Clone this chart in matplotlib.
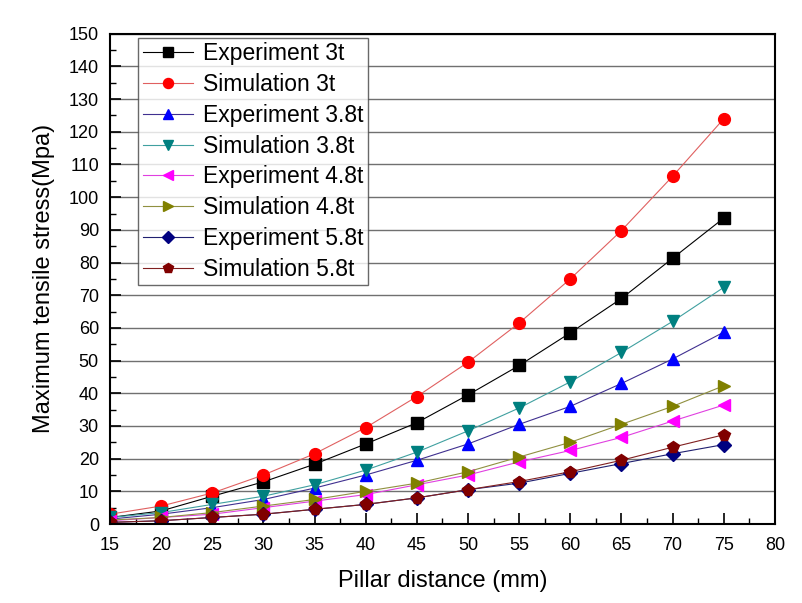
import matplotlib
matplotlib.use("Agg")
import matplotlib.pyplot as plt
from matplotlib.ticker import MultipleLocator

plt.rcParams['font.family'] = ['Liberation Sans', 'DejaVu Sans']

x = [15, 20, 25, 30, 35, 40, 45, 50, 55, 60, 65, 70, 75]
exp_3t = [2, 4, 8.5, 12.9, 18.3, 24.5, 31, 39.5, 48.5, 58.5, 69, 81.3, 93.6]
sim_3t = [3, 5.5, 9.5, 15, 21.5, 29.5, 39, 49.5, 61.5, 75, 89.8, 106.4, 124]
exp_38t = [1.5, 3, 5, 7.5, 11, 15, 19.5, 24.5, 30.5, 36, 43, 50.5, 58.7]
sim_38t = [2, 3.5, 6, 8.5, 12, 16.5, 22, 28.5, 35.5, 43.5, 52.5, 62, 72.4]
exp_48t = [1, 2, 3, 5, 7, 9, 12, 15, 19, 22.5, 26.5, 31.5, 36.4]
sim_48t = [1.2, 2, 3.5, 5.5, 7.5, 10, 12.5, 16, 20.5, 25, 30.5, 36, 42.3]
exp_58t = [0.5, 1, 2, 3, 4.5, 6, 8, 10.5, 12.5, 15.5, 18.5, 21.5, 24.3]
sim_58t = [0.5, 1, 2, 3, 4.5, 6, 8, 10.5, 13, 16, 19.5, 23.5, 27.3]

series = [
    ("Experiment 3t", exp_3t, 's', 'black', 'black'),
    ("Simulation 3t", sim_3t, 'o', '#ff0000', '#e06060'),
    ("Experiment 3.8t", exp_38t, '^', '#0000ff', '#403090'),
    ("Simulation 3.8t", sim_38t, 'v', '#008080', '#40a0a0'),
    ("Experiment 4.8t", exp_48t, '<', '#ff00ff', '#e040e0'),
    ("Simulation 4.8t", sim_48t, '>', '#808000', '#909040'),
    ("Experiment 5.8t", exp_58t, 'D', '#000080', '#202070'),
    ("Simulation 5.8t", sim_58t, 'p', '#800000', '#802020'),
]

fig = plt.figure(figsize=(8.03, 6.03), dpi=100)
ax = fig.add_axes([0.137, 0.131, 0.828, 0.813])

for label, ys, m, mc, lc in series:
    ms = 7 if m == 'D' else 8.5
    ax.plot(x, ys, color=lc, lw=0.8, marker=m, markersize=ms,
            markerfacecolor=mc, markeredgecolor=mc, label=label)

ax.set_xlim(15, 80)
ax.set_ylim(0, 150)
ax.xaxis.set_major_locator(MultipleLocator(5))
ax.xaxis.set_minor_locator(MultipleLocator(2.5))
ax.yaxis.set_major_locator(MultipleLocator(10))
ax.yaxis.set_minor_locator(MultipleLocator(5))
ax.tick_params(which='major', direction='in', length=8, width=1.2, labelsize=13)
ax.tick_params(which='minor', direction='in', length=4, width=1.0)
ax.tick_params(axis='x', which='major', pad=9)
ax.tick_params(axis='y', which='major', pad=8)
ax.grid(axis='y', which='major', color='#707070', lw=1.0)
ax.set_axisbelow(True)
for s in ax.spines.values():
    s.set_linewidth(1.5)

ax.set_xlabel("Pillar distance (mm)", fontsize=17, labelpad=12)
ax.set_ylabel("Maximum tensile stress(Mpa)", fontsize=17, labelpad=10)

leg = ax.legend(loc='upper left', bbox_to_anchor=(0.042, 0.992), borderaxespad=0,
                fontsize=16.5, frameon=True, fancybox=False, edgecolor='#444444',
                handlelength=2.2, labelspacing=0.34, handletextpad=0.45,
                borderpad=0.2, markerscale=0.85)
leg.get_frame().set_linewidth(1.0)

fig.savefig("out.png", dpi=100)
